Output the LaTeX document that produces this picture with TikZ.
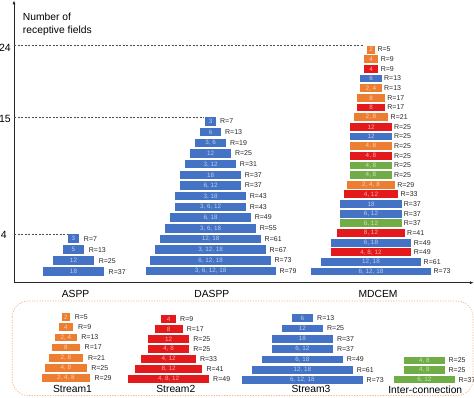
\documentclass[tikz,border=0pt]{standalone}
\usepackage{fontspec}
\setmainfont{Liberation Sans}
\usetikzlibrary{arrows.meta}
\definecolor{cb}{HTML}{4472C4}
\definecolor{co}{HTML}{ED7D31}
\definecolor{cr}{HTML}{E3191C}
\definecolor{cg}{HTML}{70AD47}
\tikzset{
  bar/.style={draw=none, inner sep=0pt, outer sep=0pt, font=\fontsize{6.3}{7}\selectfont},
  rlab/.style={inner sep=0pt, anchor=west, font=\fontsize{7}{8}\selectfont, text=black!85},
  glab/.style={inner sep=0pt, font=\fontsize{10.3}{12}\selectfont},
  ticklab/.style={inner sep=0pt, anchor=east, font=\fontsize{10.5}{12}\selectfont},
  axisline/.style={line width=0.7pt, draw=black!85},
  guide/.style={line width=0.5pt, draw=black!70, dash pattern=on 2pt off 1.5pt},
  framebox/.style={draw=co!60!white, line width=0.7pt, dash pattern=on 1.2pt off 1.4pt, rounded corners=16pt}
}
% #1 prefix, #2 centre x, #3 top y, #4 pitch, #5 bar height, #6 gap, #7 list
\newcommand\pyramid[7]{%
  \foreach \lb/\rv/\cl [count=\k from 0] in {#7} {
    \pgfmathsetmacro\ww{1.65*\rv}
    \pgfmathsetmacro\yy{#3+\k*#4+#5/2}
    \node[bar, fill=\cl, minimum width=\ww pt, minimum height=#5 pt, text=\cl!35!white] (#1\k) at (#2,\yy) {\lb};
    \node[rlab] (#1r\k) at ([xshift=#6pt]#1\k.east) {R=\rv};
  }%
}
\begin{document}
\begin{tikzpicture}[x=1pt, y=-1pt]
\useasboundingbox (0,0) rectangle (474,397);

% axes
\coordinate (O) at (14,282.7);
\coordinate (ytop) at (14,0.3);
\coordinate (xend) at (473.8,282.7);
\draw[axisline, -{Latex[length=4pt,width=3pt]}] (O) -- (ytop);
\draw[axisline, -{Latex[length=4pt,width=3pt]}] (O) -- (xend);

\node[inner sep=0pt, anchor=north west, align=left, font=\fontsize{10.3}{12.4}\selectfont] (ylab) at (22.8,13.2) {Number of\\receptive fields};

% ASPP
\pyramid{a}{73.5}{234.3}{11.0}{8.6}{4.5}{3/7/cb, 5/13/cb, 12/25/cb, 18/37/cb}
% DASPP
\pyramid{d}{210.7}{117.3}{10.67}{8.5}{3.5}{3/7/cb, 6/13/cb, {3, 6}/19/cb, 12/25/cb, {3, 12}/31/cb, 18/37/cb, {6, 12}/37/cb, {3, 18}/43/cb, {3, 6, 12}/43/cb, {6, 18}/49/cb, {3, 6, 18}/55/cb, {12, 18}/61/cb, {3, 12, 18}/67/cb, {6, 12, 18}/73/cb, {3, 6, 12, 18}/79/cb}
% MDCEM
\pyramid{m}{371}{45.7}{9.65}{7.8}{2.2}{2/5/co, 4/9/co, 4/9/cr, 6/13/cb, {2, 4}/13/co, 8/17/co, 8/17/cr, {2, 8}/21/co, 12/25/cr, 12/25/cb, {4, 8}/25/co, {4, 8}/25/cr, {4, 8}/25/cg, {4, 8}/25/cg, {2, 4, 8}/29/co, {4, 12}/33/cr, 18/37/cb, {6, 12}/37/cb, {6, 12}/37/cg, {8, 12}/41/cr, {6, 18}/49/cb, {4, 8, 12}/49/cr, {12, 18}/61/cb, {6, 12, 18}/73/cb}

% guide lines and ticks
\draw[guide] (O |- m0.north) -- ([xshift=-3pt]m0.north west);
\draw[guide] (O |- d0.north) -- ([xshift=-1pt]d0.north west);
\draw[guide] (O |- a0.north) -- ([xshift=-1pt]a0.north west);
\node[ticklab] (t24) at (11,48) {24};
\node[ticklab] (t15) at (11,118.8) {15};
\node[ticklab] (t4) at (7,235.2) {4};

\node[glab] (gA) at (75.5,293.5) {ASPP};
\node[glab] (gD) at (211.8,294) {DASPP};
\node[glab] (gM) at (378,294) {MDCEM};

% lower panel
\draw[framebox] (12.3,301) rectangle (473,395.5);
\pyramid{p}{66}{313.3}{10.1}{7.8}{4.5}{2/5/co, 4/9/co, {2, 4}/13/co, 8/17/co, {2, 8}/21/co, {4, 8}/25/co, {2, 4, 8}/29/co}
\pyramid{q}{168.6}{315}{10}{7.8}{4}{4/9/cr, 8/17/cr, 12/25/cr, {4, 8}/25/cr, {4, 12}/33/cr, {8, 12}/41/cr, {4, 8, 12}/49/cr}
\pyramid{u}{302.3}{314.3}{10.3}{7.8}{4}{6/13/cb, 12/25/cb, 18/37/cb, {6, 12}/37/cb, {6, 18}/49/cb, {12, 18}/61/cb, {6, 12, 18}/73/cb}
\pyramid{v}{424.3}{356.7}{9.7}{7.2}{3.5}{{4, 8}/25/cg, {4, 8}/25/cg, {6, 12}/37/cg}

\node[glab] (g1) at (72.5,388.7) {Stream1};
\node[glab] (g2) at (175.8,389.3) {Stream2};
\node[glab] (g3) at (311,389.3) {Stream3};
\node[glab] (g4) at (425.3,390) {Inter-connection};
\end{tikzpicture}
\end{document}
